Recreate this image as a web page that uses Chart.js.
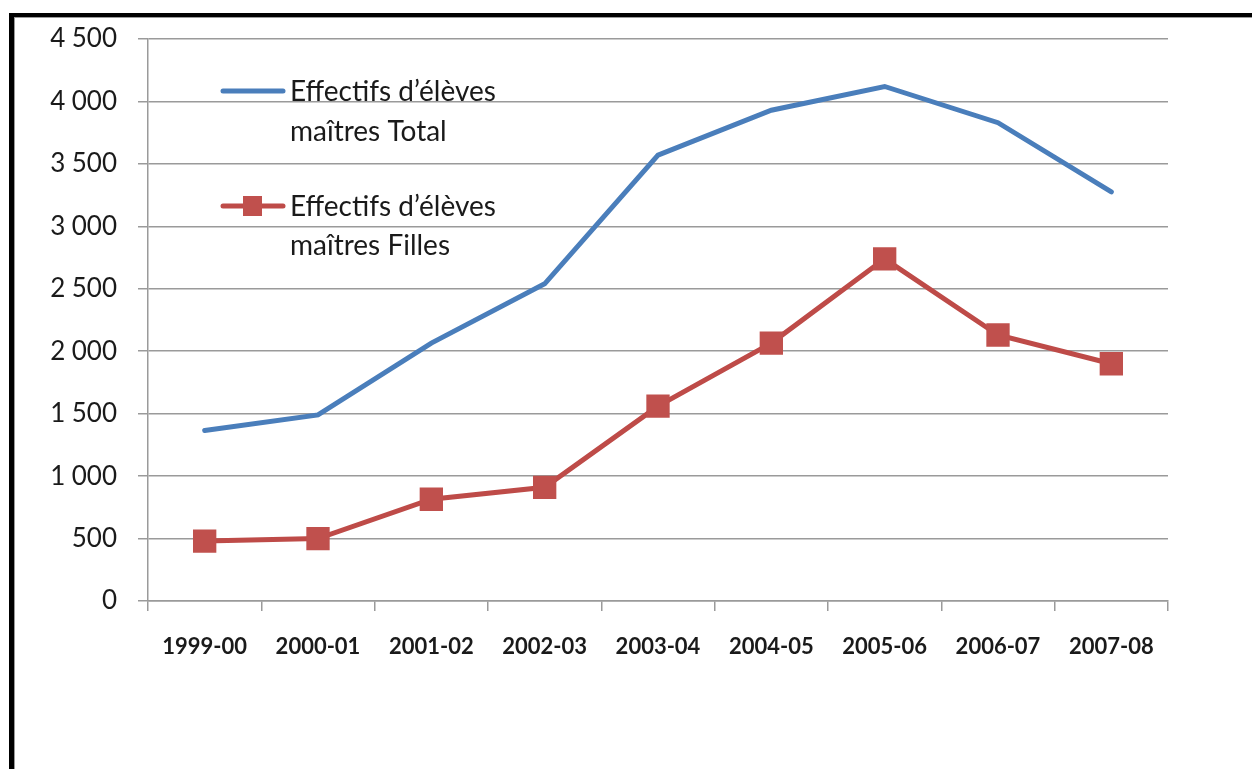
<!DOCTYPE html>
<html><head><meta charset="utf-8">
<script src="https://cdn.jsdelivr.net/npm/chart.js@4.4.1/dist/chart.umd.min.js"></script>
<style>
html,body{margin:0;padding:0;background:#fff;overflow:hidden}
#wrap{position:relative;width:1252px;height:769px}
canvas{position:absolute;left:0;top:0}
#frame{position:absolute;left:9px;top:13px;width:1300px;height:800px;border-top:4px solid #000;border-left:5px solid #000;box-shadow:inset 1px 1px 0 #9a9a9a;pointer-events:none}
</style></head><body>
<div id="wrap"><canvas id="c" width="1252" height="769"></canvas><div id="frame"></div></div>
<script>
const categories = ['1999-00','2000-01','2001-02','2002-03','2003-04','2004-05','2005-06','2006-07','2007-08'];
const totalValues = [1365, 1490, 2065, 2540, 3570, 3930, 4120, 3830, 3275];
const fillesValues = [480, 500, 815, 910, 1560, 2065, 2740, 2130, 1900];
const seriesNames = ['Effectifs d’élèves maîtres Total', 'Effectifs d’élèves maîtres Filles'];
const legendLines = [['Effectifs d’élèves', 'maîtres Total'], ['Effectifs d’élèves', 'maîtres Filles']];
const yMin = 0, yMax = 4500, yStep = 500;

const BLUE = '#4a7ebb', RED = '#be4b48', GRID = '#9a9a9a', TEXT = '#1a1a1a';

const inlineLegend = {
  id: 'inlineLegend',
  afterDraw(chart) {
    const ctx = chart.ctx;
    const rows = [{y: 91, t1: 101, t2: 141}, {y: 206, t1: 216, t2: 255}];
    chart.data.datasets.forEach((ds, i) => {
      const r = rows[i];
      ctx.save();
      ctx.strokeStyle = ds.borderColor;
      ctx.lineWidth = 5;
      ctx.lineCap = 'round';
      ctx.beginPath();
      ctx.moveTo(223, r.y); ctx.lineTo(283, r.y);
      ctx.stroke();
      if (ds.pointStyle === 'rect') {
        ctx.fillStyle = ds.pointBackgroundColor;
        ctx.fillRect(243, r.y - 10, 19, 20);
      }
      ctx.fillStyle = TEXT;
      ctx.font = '28px Lato';
      ctx.textBaseline = 'alphabetic';
      ctx.textAlign = 'left';
      ctx.fillText(legendLines[i][0], 290, r.t1);
      ctx.fillText(legendLines[i][1], 290, r.t2);
      ctx.restore();
    });
  }
};

new Chart(document.getElementById('c'), {
  type: 'line',
  data: {
    labels: categories,
    datasets: [
      {label: seriesNames[0], data: totalValues, borderColor: BLUE, backgroundColor: BLUE,
       borderWidth: 5, pointRadius: 0, tension: 0, borderCapStyle: 'round', fill: false},
      {label: seriesNames[1], data: fillesValues, borderColor: RED, backgroundColor: RED,
       pointBackgroundColor: '#c0504d', pointBorderColor: '#c0504d', pointBorderWidth: 0,
       borderWidth: 5, pointStyle: 'rect', pointRadius: 16.5, tension: 0, borderCapStyle: 'round', fill: false}
    ]
  },
  options: {
    responsive: false,
    animation: false,
    events: [],
    layout: {padding: {left: 0, top: 39, right: 84, bottom: 0}},
    plugins: {legend: {display: false}, tooltip: {enabled: false}, title: {display: false}},
    scales: {
      x: {
        type: 'category',
        offset: true,
        grid: {display: true, offset: true, drawOnChartArea: false, drawTicks: true, tickLength: 10, color: GRID, lineWidth: 1.5},
        border: {display: true, color: GRID, width: 1.5},
        ticks: {color: TEXT, padding: 23, maxRotation: 0, autoSkip: false,
                font: {family: 'Lato', size: 22, weight: 'bold'}},
        afterFit(scale) { scale.height = 168; }
      },
      y: {
        min: yMin, max: yMax,
        ticks: {stepSize: yStep, color: TEXT, padding: 21,
                font: {family: 'Lato', size: 26},
                callback: (v) => v.toLocaleString('fr-FR').replace(/\s/g, '\u202f')},
        grid: {color: GRID, lineWidth: 1.5, tickLength: 10, drawTicks: true},
        border: {display: true, color: GRID, width: 1.5},
        afterFit(scale) { scale.width = 148; }
      }
    }
  },
  plugins: [inlineLegend]
});
</script>
</body></html>
